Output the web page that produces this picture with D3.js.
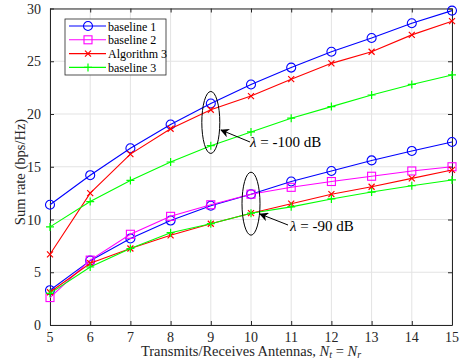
<!DOCTYPE html>
<html>
<head>
<meta charset="utf-8">
<script src="https://cdn.jsdelivr.net/npm/d3@7"></script>
<style>
  html, body { margin: 0; padding: 0; background: #fff; overflow: hidden; }
  svg { display: block; }
  text { font-family: "Liberation Serif", "DejaVu Serif", serif; }
</style>
</head>
<body>
<svg id="canvas"></svg>
<script>
const antennas = [5, 6, 7, 8, 9, 10, 11, 12, 13, 14, 15];
const xTicks = [5, 6, 7, 8, 9, 10, 11, 12, 13, 14, 15];
const yTicks = [0, 5, 10, 15, 20, 25, 30];

// lambda = -100 dB
const base1High = [11.4, 14.2, 16.75, 19.0, 21.0, 22.8, 24.4, 25.9, 27.2, 28.6, 29.8];
const algHigh   = [6.7, 12.5, 16.2, 18.6, 20.4, 21.7, 23.3, 24.8, 25.9, 27.5, 28.8];
const base3High = [9.3, 11.7, 13.7, 15.45, 17.0, 18.3, 19.6, 20.7, 21.8, 22.8, 23.7];
// lambda = -90 dB
const base1Low = [3.3, 6.1, 8.2, 9.9, 11.3, 12.4, 13.6, 14.6, 15.6, 16.5, 17.35];
const base2Low = [2.6, 6.15, 8.6, 10.3, 11.4, 12.4, 13.05, 13.6, 14.1, 14.6, 15.0];
const algLow   = [3.1, 5.85, 7.25, 8.5, 9.6, 10.6, 11.5, 12.4, 13.1, 13.9, 14.7];
const base3Low = [3.0, 5.5, 7.25, 8.75, 9.6, 10.6, 11.2, 11.95, 12.6, 13.2, 13.75];

const seriesNames = ["baseline 1", "baseline 2", "Algorithm 3", "baseline 3"];
const seriesColors = ["#0000ff", "#ff00ff", "#ff0000", "#00ff00"];
const seriesMarkers = ["circle", "square", "cross", "plus"];

const width = 460;
const height = 364;
const margin = {top: 8.5, right: 8, bottom: 39, left: 50};
const innerWidth = width - margin.left - margin.right;
const innerHeight = height - margin.top - margin.bottom;

const svg = d3.select("#canvas").attr("width", width).attr("height", height);
const g = svg.append("g").attr("transform", `translate(${margin.left}, ${margin.top})`);

const xScale = d3.scaleLinear().domain([5, 15]).range([0, innerWidth]);
const yScale = d3.scaleLinear().domain([0, 30]).range([innerHeight, 0]);

// grid
g.append("g").selectAll("line").data(xTicks).join("line")
    .attr("x1", d => xScale(d)).attr("x2", d => xScale(d))
    .attr("y1", 0).attr("y2", innerHeight)
    .attr("stroke", "#e3e3e3").attr("stroke-width", 1);
g.append("g").selectAll("line").data(yTicks).join("line")
    .attr("y1", d => yScale(d)).attr("y2", d => yScale(d))
    .attr("x1", 0).attr("x2", innerWidth)
    .attr("stroke", "#e3e3e3").attr("stroke-width", 1);

// axes box, ticks pointing inward
g.append("g").attr("transform", `translate(0, ${innerHeight})`)
    .call(d3.axisBottom(xScale).tickValues(xTicks).tickSize(-4).tickSizeOuter(0).tickFormat(""));
g.append("g")
    .call(d3.axisLeft(yScale).tickValues(yTicks).tickSize(-4).tickSizeOuter(0).tickFormat(""));
g.append("g")
    .call(d3.axisTop(xScale).tickValues(xTicks).tickSize(-4).tickSizeOuter(0).tickFormat(""));
g.append("g").attr("transform", `translate(${innerWidth}, 0)`)
    .call(d3.axisRight(yScale).tickValues(yTicks).tickSize(-4).tickSizeOuter(0).tickFormat(""));
g.selectAll(".domain").attr("stroke", "#262626");
g.selectAll(".tick line").attr("stroke", "#262626");

// tick labels
g.append("g").selectAll("text").data(xTicks).join("text")
    .attr("x", d => xScale(d)).attr("y", innerHeight + 17)
    .attr("text-anchor", "middle")
    .style("font-size", "14px").attr("fill", "#262626")
    .text(d => d);
g.append("g").selectAll("text").data(yTicks).join("text")
    .attr("x", -9).attr("y", d => yScale(d) + 5)
    .attr("text-anchor", "end")
    .style("font-size", "14px").attr("fill", "#262626")
    .text(d => d);

// labels
svg.append("text")
    .attr("transform", `translate(25, 172) rotate(-90)`)
    .attr("text-anchor", "middle")
    .style("font-size", "14.5px")
    .attr("fill", "#262626")
    .text("Sum rate (bps/Hz)");
const xl = svg.append("text")
    .attr("x", margin.left + innerWidth / 2)
    .attr("y", 356)
    .attr("text-anchor", "middle")
    .style("font-size", "14.5px")
    .attr("fill", "#262626");
xl.append("tspan").text("Transmits/Receives Antennas, ");
xl.append("tspan").attr("font-style", "italic").text("N");
xl.append("tspan").attr("font-style", "italic").style("font-size", "10px").attr("dy", 2).text("t");
xl.append("tspan").attr("dy", -2).text(" = ");
xl.append("tspan").attr("font-style", "italic").text("N");
xl.append("tspan").attr("font-style", "italic").style("font-size", "10px").attr("dy", 2).text("r");

// series
const line = d3.line().x((d, i) => xScale(antennas[i])).y(d => yScale(d));

function drawMarker(sel, type, color) {
  if (type === "circle") {
    sel.append("circle").attr("r", 4.5).attr("fill", "none").attr("stroke", color).attr("stroke-width", 1.1);
  } else if (type === "square") {
    sel.append("rect").attr("x", -4).attr("y", -4).attr("width", 8).attr("height", 8)
        .attr("fill", "none").attr("stroke", color).attr("stroke-width", 1.1);
  } else if (type === "cross") {
    sel.append("path").attr("d", "M-3,-3L3,3M-3,3L3,-3").attr("stroke", color).attr("stroke-width", 1.2);
  } else {
    sel.append("path").attr("d", "M-4,0L4,0M0,-4L0,4").attr("stroke", color).attr("stroke-width", 1.2);
  }
}

function drawSeries(values, k) {
  g.append("path").datum(values)
      .attr("d", line)
      .attr("fill", "none")
      .attr("stroke", seriesColors[k])
      .attr("stroke-width", 1.1);
  g.append("g").selectAll("g").data(values).join("g")
      .attr("transform", (d, i) => `translate(${xScale(antennas[i])}, ${yScale(d)})`)
      .each(function() { drawMarker(d3.select(this), seriesMarkers[k], seriesColors[k]); });
}

drawSeries(base1High, 0);
drawSeries(algHigh, 2);
drawSeries(base3High, 3);
drawSeries(base1Low, 0);
drawSeries(base2Low, 1);
drawSeries(algLow, 2);
drawSeries(base3Low, 3);

// annotations
svg.append("defs").append("marker")
    .attr("id", "arrow").attr("viewBox", "0 0 10 10")
    .attr("refX", 9).attr("refY", 5)
    .attr("markerWidth", 9).attr("markerHeight", 9)
    .attr("orient", "auto-start-reverse")
    .append("path").attr("d", "M0,0L10,5L0,10L3,5Z").attr("fill", "#000");

function annotate(xv, yv, ry, tail, tip, textPos, label) {
  g.append("ellipse")
      .attr("cx", xScale(xv)).attr("cy", yScale(yv))
      .attr("rx", 9).attr("ry", ry)
      .attr("fill", "none").attr("stroke", "#000").attr("stroke-width", 1);
  svg.append("line")
      .attr("x1", tail[0]).attr("y1", tail[1]).attr("x2", tip[0]).attr("y2", tip[1])
      .attr("stroke", "#000").attr("stroke-width", 1)
      .attr("marker-end", "url(#arrow)");
  const t = svg.append("text").attr("x", textPos[0]).attr("y", textPos[1])
      .style("font-size", "15px").attr("fill", "#000");
  t.append("tspan").attr("font-style", "italic").text("λ");
  t.append("tspan").text(" = " + label);
}

annotate(9, 19.2, 31, [250, 142], [221, 130], [250, 147], "-100 dB");
annotate(10, 11.5, 31.5, [288, 225], [260, 214], [290, 231], "-90 dB");

// legend
const legend = svg.append("g").attr("transform", "translate(65, 19)");
legend.append("rect").attr("width", 101).attr("height", 56)
    .attr("fill", "#fff").attr("stroke", "#262626").attr("stroke-width", 0.8);
seriesNames.forEach((name, k) => {
  const row = legend.append("g").attr("transform", `translate(0, ${7 + k * 13.8})`);
  row.append("line").attr("x1", 4).attr("x2", 41).attr("stroke", seriesColors[k]).attr("stroke-width", 1.1);
  drawMarker(row.append("g").attr("transform", "translate(23, 0)"), seriesMarkers[k], seriesColors[k]);
  row.append("text").attr("x", 43).attr("y", 4.5).style("font-size", "12px").attr("fill", "#000").text(name);
});
</script>
</body>
</html>
